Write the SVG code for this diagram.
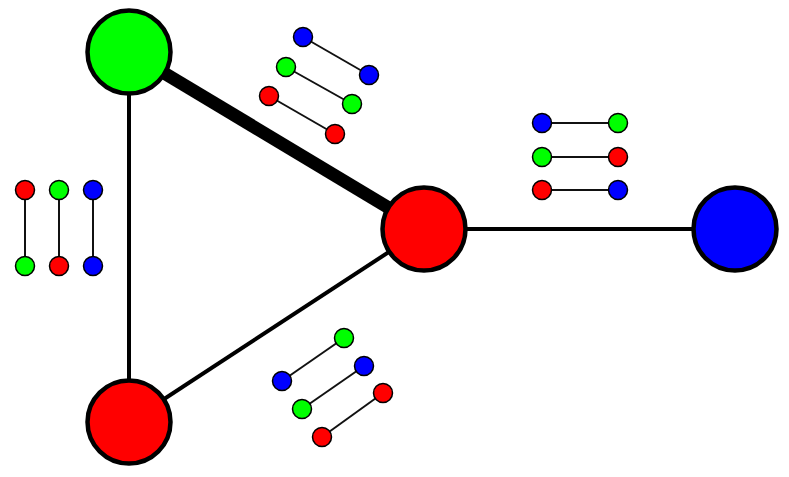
<svg xmlns="http://www.w3.org/2000/svg" width="789" height="477" viewBox="0 0 789 477">
<style>
.big{stroke:#000;stroke-width:4.5}
.sm{stroke:#000;stroke-width:1.5}
.e{stroke:#000;stroke-width:4}
.l{stroke:#111;stroke-width:2}
.r{fill:#ff0000}.g{fill:#00ff00}.b{fill:#0000ff}
</style>
<rect width="789" height="477" fill="#fff"/>
<g id="connectors">
<line class="e" x1="129" y1="52" x2="424" y2="229" style="stroke-width:13"/>
<line class="e" x1="129" y1="52" x2="129" y2="422"/>
<line class="e" x1="129" y1="422" x2="424" y2="229"/>
<line class="e" x1="424" y1="229" x2="735" y2="229"/>
</g>
<g id="legend-top">
<line class="l" x1="303" y1="37" x2="369" y2="75"/>
<line class="l" x1="286" y1="67" x2="352" y2="104"/>
<line class="l" x1="269" y1="96" x2="335" y2="134"/>
<circle class="sm b" cx="303" cy="37" r="9.5"/><circle class="sm b" cx="369" cy="75" r="9.5"/>
<circle class="sm g" cx="286" cy="67" r="9.5"/><circle class="sm g" cx="352" cy="104" r="9.5"/>
<circle class="sm r" cx="269" cy="96" r="9.5"/><circle class="sm r" cx="335" cy="134" r="9.5"/>
</g>
<g id="legend-right">
<line class="l" x1="542" y1="123" x2="618" y2="123"/>
<line class="l" x1="542" y1="157" x2="618" y2="157"/>
<line class="l" x1="542" y1="190" x2="618" y2="190"/>
<circle class="sm b" cx="542" cy="123" r="9.5"/><circle class="sm g" cx="618" cy="123" r="9.5"/>
<circle class="sm g" cx="542" cy="157" r="9.5"/><circle class="sm r" cx="618" cy="157" r="9.5"/>
<circle class="sm r" cx="542" cy="190" r="9.5"/><circle class="sm b" cx="618" cy="190" r="9.5"/>
</g>
<g id="legend-left">
<line class="l" x1="25" y1="190" x2="25" y2="266"/>
<line class="l" x1="59" y1="190" x2="59" y2="266"/>
<line class="l" x1="93" y1="190" x2="93" y2="266"/>
<circle class="sm r" cx="25" cy="190" r="9.5"/><circle class="sm g" cx="25" cy="266" r="9.5"/>
<circle class="sm g" cx="59" cy="190" r="9.5"/><circle class="sm r" cx="59" cy="266" r="9.5"/>
<circle class="sm b" cx="93" cy="190" r="9.5"/><circle class="sm b" cx="93" cy="266" r="9.5"/>
</g>
<g id="legend-bottom">
<line class="l" x1="282" y1="381" x2="344" y2="338"/>
<line class="l" x1="302" y1="409" x2="364" y2="366"/>
<line class="l" x1="322" y1="437" x2="383" y2="393"/>
<circle class="sm g" cx="344" cy="338" r="9.5"/><circle class="sm b" cx="282" cy="381" r="9.5"/>
<circle class="sm b" cx="364" cy="366" r="9.5"/><circle class="sm g" cx="302" cy="409" r="9.5"/>
<circle class="sm r" cx="383" cy="393" r="9.5"/><circle class="sm r" cx="322" cy="437" r="9.5"/>
</g>
<g id="node-green"><circle class="big g" cx="129" cy="52" r="41.5"/></g>
<g id="node-red-center"><circle class="big r" cx="424" cy="229" r="41.5"/></g>
<g id="node-blue"><circle class="big b" cx="735" cy="229" r="41.5"/></g>
<g id="node-red-bottom"><circle class="big r" cx="129" cy="422" r="41.5"/></g>
</svg>
